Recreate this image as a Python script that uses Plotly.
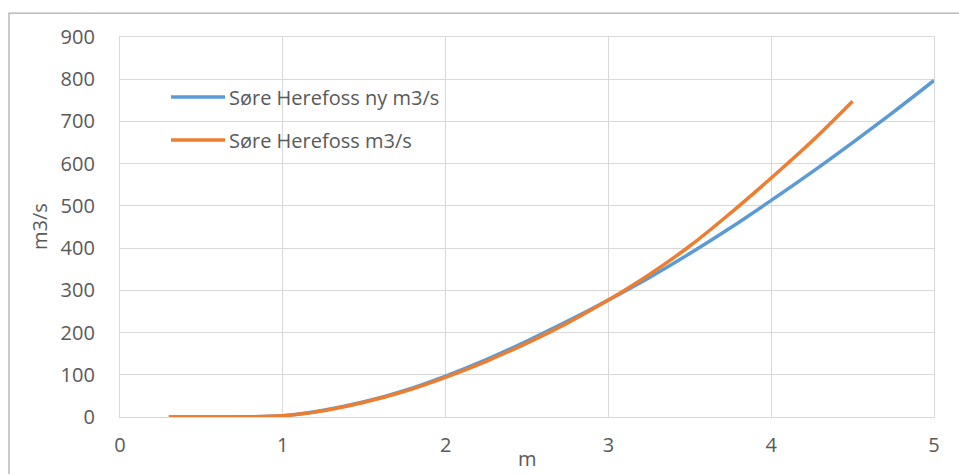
import plotly.graph_objects as go

# Stage (m) and discharge (m3/s) for the two rating curves
stage_new = [0.3, 0.5, 0.75, 1.0, 1.25, 1.5, 1.75, 2.0, 2.25, 2.5, 2.75, 3.0,
             3.25, 3.5, 3.75, 4.0, 4.25, 4.5, 4.75, 5.0]
flow_new = [0, 0, 0.5, 3, 16, 36, 63, 97, 136, 180, 227, 277,
            330, 387, 448, 513, 580, 650, 722, 797]

stage_old = [0.3, 0.5, 0.75, 1.0, 1.25, 1.5, 1.75, 2.0, 2.25, 2.5, 2.75, 3.0,
             3.25, 3.5, 3.75, 4.0, 4.25, 4.5]
flow_old = [0, 0, 0.5, 3, 15, 35, 61, 94, 132, 175, 223, 277,
            337, 405, 483, 566, 653, 748]

names = ["Søre Herefoss ny m3/s", "Søre Herefoss m3/s"]
colors = ["#5B9BD5", "#ED7D31"]

x_ticks = [0, 1, 2, 3, 4, 5]
y_ticks = [0, 100, 200, 300, 400, 500, 600, 700, 800, 900]

FONT = "Open Sans"
TEXT_COLOR = "#595959"
GRID = "#d9d9d9"

fig = go.Figure()
for xs, ys, name, col in [(stage_new, flow_new, names[0], colors[0]),
                          (stage_old, flow_old, names[1], colors[1])]:
    fig.add_trace(go.Scatter(x=xs, y=ys, mode="lines", name=name,
                             line=dict(color=col, width=3.5, shape="spline"),
                             showlegend=False))

W, H = 959, 474
L, R, T, B = 120, 25, 37, 57
pw, ph = W - L - R, H - T - B


def px_x(p):
    return (p - L) / pw


def px_y(p):
    return (H - B - p) / ph


shapes = [
    # outer chart frame
    dict(type="rect", xref="paper", yref="paper",
         x0=px_x(9), x1=px_x(975), y0=px_y(495), y1=px_y(13),
         line=dict(color="#ababab", width=1.25), layer="below"),
]
annotations = []

# legend entries drawn inside the plot area
for i, (name, col) in enumerate(zip(names, colors)):
    yy = px_y(97 + 43 * i)
    shapes.append(dict(type="line", xref="paper", yref="paper",
                       x0=px_x(171), x1=px_x(225), y0=yy, y1=yy,
                       line=dict(color=col, width=3.5)))
    annotations.append(dict(xref="paper", yref="paper", x=px_x(227), y=yy,
                            text=name, showarrow=False, xanchor="left",
                            yanchor="middle",
                            font=dict(family=FONT, size=20, color=TEXT_COLOR)))

# axis titles
annotations.append(dict(xref="paper", yref="paper", x=px_x(39), y=0.5,
                        text="m3/s", textangle=-90, showarrow=False,
                        xanchor="center", yanchor="middle",
                        font=dict(family=FONT, size=20, color=TEXT_COLOR)))
annotations.append(dict(xref="paper", yref="paper", x=0.5, y=px_y(459),
                        text="m", showarrow=False,
                        xanchor="center", yanchor="middle",
                        font=dict(family=FONT, size=20, color=TEXT_COLOR)))

fig.update_layout(
    width=W, height=H,
    margin=dict(l=L, r=R, t=T, b=B),
    paper_bgcolor="white", plot_bgcolor="white",
    font=dict(family=FONT, size=20, color=TEXT_COLOR),
    shapes=shapes, annotations=annotations,
    xaxis=dict(range=[0, 5], tickvals=x_ticks, ticktext=[str(v) for v in x_ticks],
               showgrid=True, gridcolor=GRID, gridwidth=1.25,
               showline=True, linecolor=GRID, linewidth=1.25, mirror=True,
               zeroline=False, ticks="", ticklabelstandoff=10,
               tickfont=dict(family=FONT, size=20, color=TEXT_COLOR)),
    yaxis=dict(range=[0, 900], tickvals=y_ticks, ticktext=[str(v) for v in y_ticks],
               showgrid=True, gridcolor=GRID, gridwidth=1.25,
               showline=True, linecolor=GRID, linewidth=1.25, mirror=True,
               zeroline=False, ticks="", ticklabelstandoff=20,
               tickfont=dict(family=FONT, size=20, color=TEXT_COLOR)),
)

fig.write_html("out.html")
